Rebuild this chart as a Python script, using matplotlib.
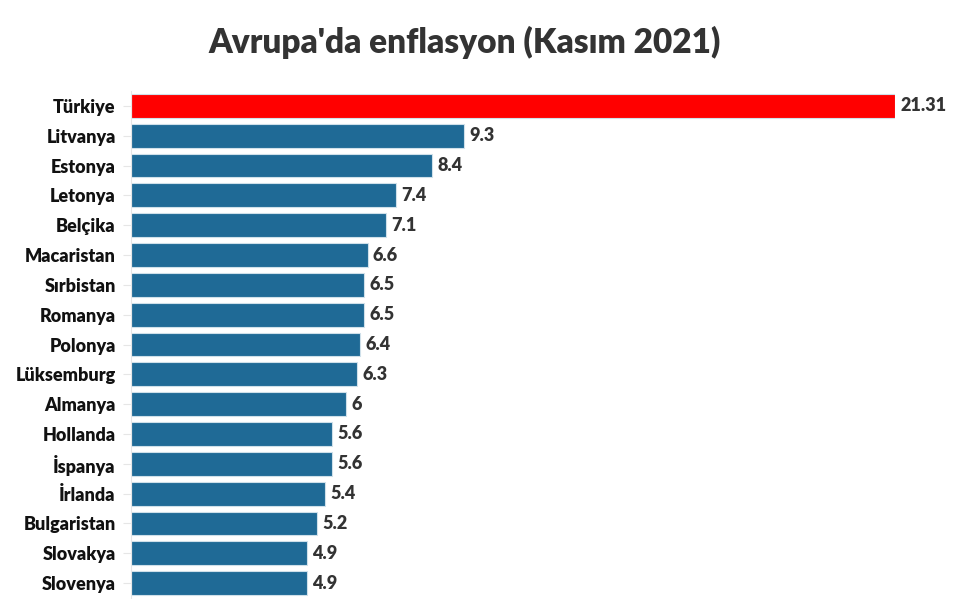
import matplotlib.pyplot as plt

# data
countries = ["Türkiye", "Litvanya", "Estonya", "Letonya", "Belçika", "Macaristan",
             "Sırbistan", "Romanya", "Polonya", "Lüksemburg", "Almanya", "Hollanda",
             "İspanya", "İrlanda", "Bulgaristan", "Slovakya", "Slovenya"]
values = [21.31, 9.3, 8.4, 7.4, 7.1, 6.6, 6.5, 6.5, 6.4, 6.3, 6, 5.6, 5.6, 5.4, 5.2, 4.9, 4.9]
labels = ["21.31", "9.3", "8.4", "7.4", "7.1", "6.6", "6.5", "6.5", "6.4", "6.3", "6",
          "5.6", "5.6", "5.4", "5.2", "4.9", "4.9"]

plt.rcParams['font.family'] = ['Lato', 'DejaVu Sans']

fig = plt.figure(figsize=(9.64, 5.99), dpi=100)
ax = fig.add_axes([131/964, 1/599, 764/964, 507/599])

colors = ['#ff0000'] + ['#1f6a96'] * (len(values) - 1)
y = range(len(values))
ax.barh(y, values, height=0.8, color=colors, edgecolor='#cfe0ea', linewidth=0.8)

# value labels
for i, (v, t) in enumerate(zip(values, labels)):
    ax.text(v + 0.15, i, t, va='center', ha='left', fontsize=13,
            fontweight='heavy', color='#333333')

ax.set_xlim(0, 21.31)
ax.set_ylim(len(values) - 0.5, -0.5)
ax.set_yticks(list(y))
ax.set_yticklabels(countries, fontsize=13, fontweight='heavy', color='#111111')
ax.set_xticks([])
ax.tick_params(axis='y', length=6, color='#e6e6e6', pad=5)

for s in ['top', 'right', 'bottom']:
    ax.spines[s].set_visible(False)
ax.spines['left'].set_color('#e6e6e6')

fig.text(465/964, 1 - 42/599, "Avrupa'da enflasyon (Kasım 2021)", ha='center', va='center',
         fontsize=24, fontweight='heavy', color='#333333')

fig.savefig('out.png', dpi=100)
